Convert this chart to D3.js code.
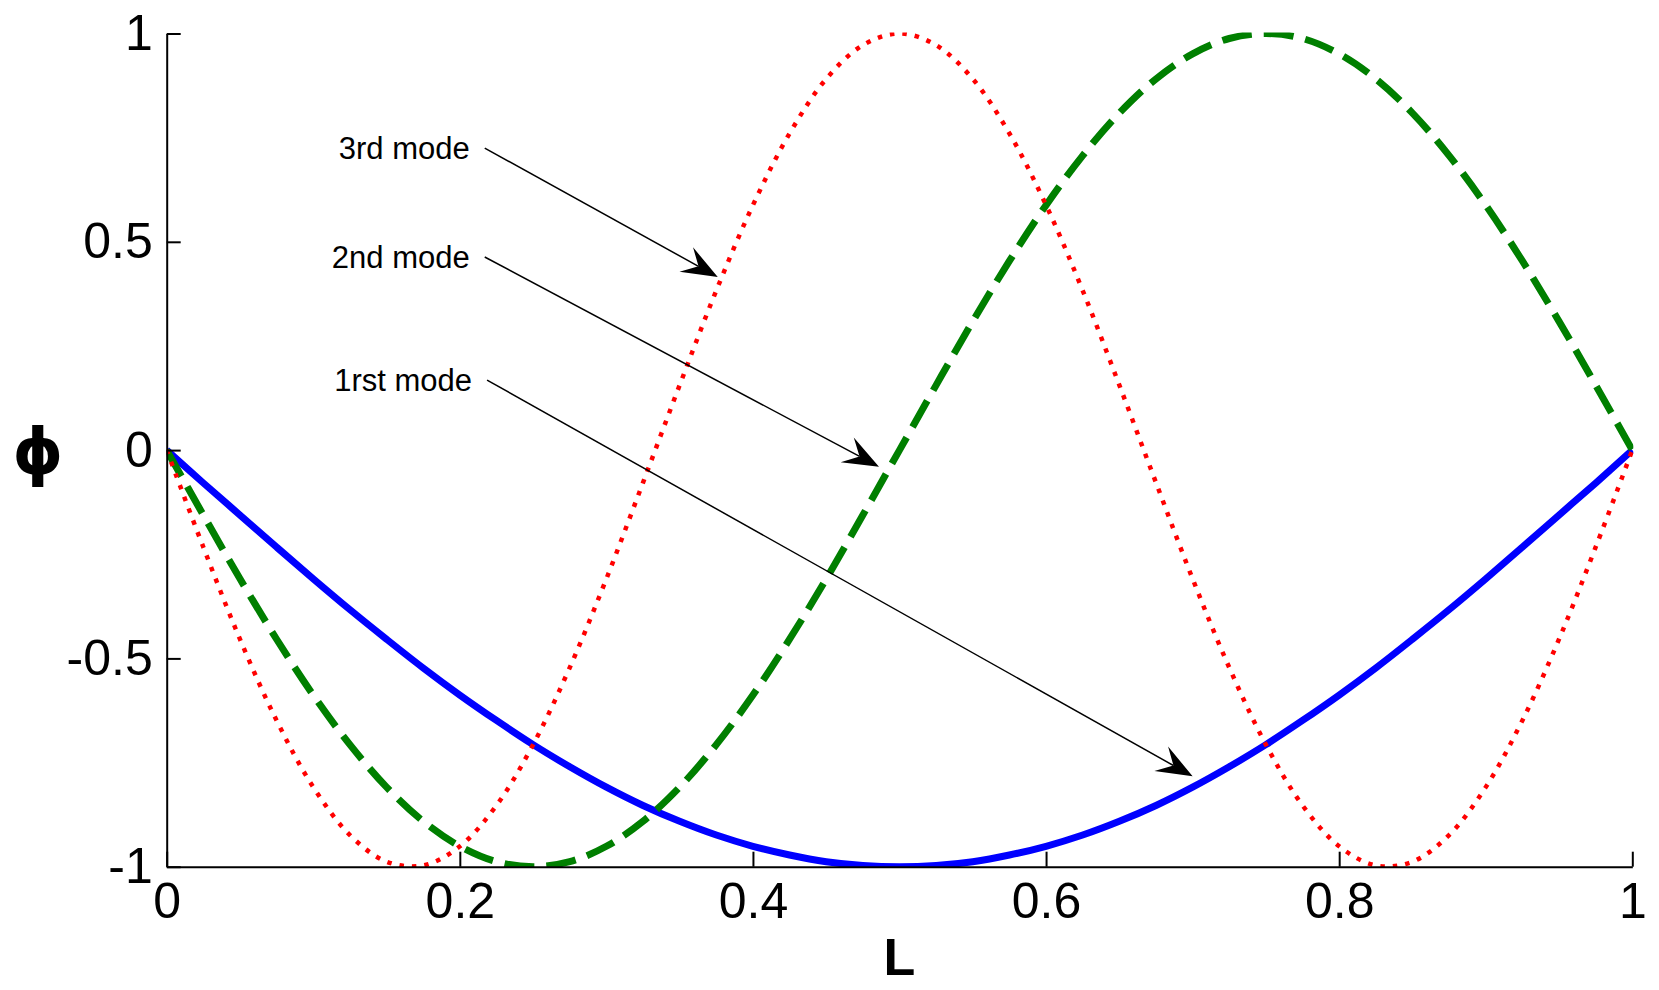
<!DOCTYPE html>
<html>
<head>
<meta charset="utf-8">
<script src="https://cdn.jsdelivr.net/npm/d3@7"></script>
<style>
  html, body { margin: 0; padding: 0; background: #fff; }
  svg { display: block; }
  text { font-family: "Liberation Sans", Arial, sans-serif; }
</style>
</head>
<body>
<script>
// ---- data ----
const xValues = [0,0.025,0.05,0.075,0.1,0.125,0.15,0.175,0.2,0.225,0.25,0.275,0.3,0.325,0.35,0.375,0.4,0.425,0.45,0.475,0.5,
                 0.525,0.55,0.575,0.6,0.625,0.65,0.675,0.7,0.725,0.75,0.775,0.8,0.825,0.85,0.875,0.9,0.925,0.95,0.975,1];
const mode1 = [0,-0.079,-0.156,-0.233,-0.309,-0.383,-0.454,-0.523,-0.588,-0.649,-0.707,-0.760,-0.809,-0.853,-0.891,-0.924,-0.951,-0.972,-0.988,-0.997,-1,
               -0.997,-0.988,-0.972,-0.951,-0.924,-0.891,-0.853,-0.809,-0.760,-0.707,-0.649,-0.588,-0.523,-0.454,-0.383,-0.309,-0.233,-0.156,-0.079,0];
const mode2 = [0,-0.156,-0.309,-0.454,-0.588,-0.707,-0.809,-0.891,-0.951,-0.988,-1,-0.988,-0.951,-0.891,-0.809,-0.707,-0.588,-0.454,-0.309,-0.156,0,
               0.156,0.309,0.454,0.588,0.707,0.809,0.891,0.951,0.988,1,0.988,0.951,0.891,0.809,0.707,0.588,0.454,0.309,0.156,0];
const mode3 = [0,-0.233,-0.454,-0.649,-0.809,-0.924,-0.988,-0.997,-0.951,-0.853,-0.707,-0.522,-0.309,-0.078,0.156,0.383,0.588,0.760,0.891,0.972,1,
               0.972,0.891,0.760,0.588,0.383,0.156,-0.078,-0.309,-0.522,-0.707,-0.853,-0.951,-0.997,-0.988,-0.924,-0.809,-0.649,-0.454,-0.233,0];
const xTicks = [0,0.2,0.4,0.6,0.8,1];
const xTickLabels = ["0","0.2","0.4","0.6","0.8","1"];
const yTicks = [-1,-0.5,0,0.5,1];
const yTickLabels = ["-1","-0.5","0","0.5","1"];
const annLabels = ["3rd mode","2nd mode","1rst mode"];
const annTail = [[0.217,0.725],[0.217,0.4635],[0.2186,0.168]];
const annHead = [[0.376,0.4155],[0.486,-0.04],[0.700,-0.783]];
const xLabel = "L";
const yLabel = "\u03D5";

// ---- layout ----
const W = 1659, H = 990;
const pLeft = 166.7, pRight = 1632.3, pTop = 33.5, pBottom = 866.7;

const svg = d3.select("body").append("svg").attr("width", W).attr("height", H);
svg.append("rect").attr("width", W).attr("height", H).attr("fill", "#fff");

const x = d3.scaleLinear().domain([0, 1]).range([pLeft, pRight]);
const y = d3.scaleLinear().domain([-1, 1]).range([pBottom, pTop]);

svg.append("defs").append("clipPath").attr("id", "plotclip")
  .append("rect").attr("x", pLeft).attr("y", pTop - 1).attr("width", pRight - pLeft + 1).attr("height", pBottom - pTop + 2);

// ---- curves ----
const line = d3.line().x((d, i) => x(xValues[i])).y(d => y(d)).curve(d3.curveCatmullRom.alpha(0.5));
const g = svg.append("g").attr("clip-path", "url(#plotclip)");
g.append("path").datum(mode1).attr("d", line).attr("fill", "none")
  .attr("stroke", "#0000ff").attr("stroke-width", 7);
g.append("path").datum(mode2).attr("d", line).attr("fill", "none")
  .attr("stroke", "#007f00").attr("stroke-width", 7).attr("stroke-dasharray", "30,12");
g.append("path").datum(mode3).attr("d", line).attr("fill", "none")
  .attr("stroke", "#ff0000").attr("stroke-width", 4.5).attr("stroke-dasharray", "4.5,8");

// ---- axes ----
const xAxis = d3.axisBottom(x).tickValues(xTicks).tickFormat((d, i) => xTickLabels[i])
  .tickSizeInner(-15).tickSizeOuter(0).tickPadding(16);
const yAxis = d3.axisLeft(y).tickValues(yTicks).tickFormat((d, i) => yTickLabels[i])
  .tickSizeInner(-14).tickSizeOuter(0).tickPadding(14);

const gx = svg.append("g").attr("transform", `translate(0,${pBottom})`).call(xAxis);
const gy = svg.append("g").attr("transform", `translate(${pLeft},0)`).call(yAxis);
[gx, gy].forEach(a => {
  a.select(".domain").attr("stroke", "#000").attr("stroke-width", 2);
  a.selectAll(".tick line").attr("stroke", "#000").attr("stroke-width", 2);
  a.selectAll(".tick text").attr("fill", "#000").style("font-size", "50px")
    .style("font-family", '"Liberation Sans", Arial, sans-serif');
});

// axis labels
svg.append("text").attr("x", (pLeft + pRight) / 2).attr("y", 975).attr("text-anchor", "middle")
  .style("font-size", "52px").style("font-weight", "bold").text(xLabel);
svg.append("text").attr("x", 38).attr("y", 452).attr("text-anchor", "middle").attr("dominant-baseline", "central")
  .style("font-family", '"DejaVu Sans", sans-serif').style("font-size", "64px").style("font-weight", "bold").text(yLabel);

// ---- annotations ----
annLabels.forEach((lab, i) => {
  const tx = x(annTail[i][0]), ty = y(annTail[i][1]);
  const hx = x(annHead[i][0]), hy = y(annHead[i][1]);
  svg.append("text").attr("x", tx - 15).attr("y", ty).attr("text-anchor", "end")
    .attr("dominant-baseline", "central").style("font-size", "31px").text(lab);
  const dx = hx - tx, dy = hy - ty, len = Math.hypot(dx, dy);
  const ux = dx / len, uy = dy / len, nx = -uy, ny = ux;
  const L = 36, Wd = 14, notch = 22;
  svg.append("line").attr("x1", tx).attr("y1", ty)
    .attr("x2", hx - ux * notch).attr("y2", hy - uy * notch)
    .attr("stroke", "#000").attr("stroke-width", 1.5);
  const pts = [
    [hx, hy],
    [hx - ux * L + nx * Wd, hy - uy * L + ny * Wd],
    [hx - ux * notch, hy - uy * notch],
    [hx - ux * L - nx * Wd, hy - uy * L - ny * Wd]
  ];
  svg.append("polygon").attr("points", pts.map(p => p.join(",")).join(" ")).attr("fill", "#000");
});
</script>
</body>
</html>
